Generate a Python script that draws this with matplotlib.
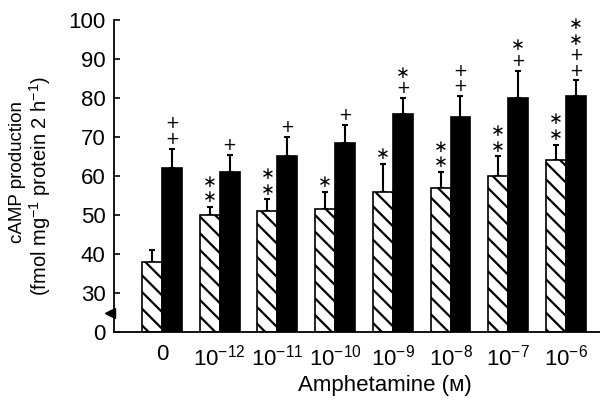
import matplotlib
matplotlib.use("Agg")
import matplotlib.pyplot as plt
import numpy as np

plt.rcParams['font.family'] = ['Liberation Sans', 'DejaVu Sans']
plt.rcParams['mathtext.fontset'] = 'custom'
plt.rcParams['mathtext.rm'] = 'Liberation Sans'
plt.rcParams['mathtext.default'] = 'regular'
plt.rcParams['hatch.linewidth'] = 1.6

# ---- data ----
tick_labels = ['0', r'10$^{-12}$', r'10$^{-11}$', r'10$^{-10}$', r'10$^{-9}$',
               r'10$^{-8}$', r'10$^{-7}$', r'10$^{-6}$']
hatched_vals = [38, 50, 51, 51.5, 56, 57, 60, 64]
hatched_err = [3, 2, 3, 4.5, 7, 4, 5, 4]
black_vals = [62, 61, 65, 68.5, 76, 75, 80, 80.5]
black_err = [5, 4.5, 5, 4.5, 4, 5.5, 7, 4]
hatched_marks = ['', '**', '**', '*', '*', '**', '**', '**']
black_marks = ['++', '+', '+', '+', '*+', '++', '*+', '**++']  # top to bottom

BASE = 20  # value drawn at the position labelled "0" (broken axis)

fig = plt.figure(figsize=(6, 4), dpi=100)
ax = fig.add_axes([0.19, 0.17, 0.81, 0.78])

x = np.arange(len(tick_labels))
w = 0.345

hb = [v - BASE for v in hatched_vals]
bb = [v - BASE for v in black_vals]
ax.bar(x - w / 2, hb, w, bottom=BASE, facecolor='white', edgecolor='black',
       hatch='\\\\', linewidth=1.2, zorder=2)
ax.bar(x + w / 2, bb, w, bottom=BASE, facecolor='black', edgecolor='black',
       linewidth=1.2, zorder=2)
ax.errorbar(x - w / 2, hatched_vals, yerr=[np.zeros(len(x)), hatched_err],
            fmt='none', ecolor='black', elinewidth=1.5, capsize=2.5, capthick=1.5, zorder=1)
ax.errorbar(x + w / 2, black_vals, yerr=[np.zeros(len(x)), black_err],
            fmt='none', ecolor='black', elinewidth=1.5, capsize=2.5, capthick=1.5, zorder=1)


def put_marks(xpos, top, marks):
    txt = '\n'.join('∗' if ch == '*' else '+' for ch in marks)
    ax.annotate(txt, xy=(xpos, top), xytext=(0, 3.5), textcoords='offset points',
                ha='center', va='baseline', fontsize=12, linespacing=0.82,
                family=['DejaVu Sans'], annotation_clip=False)


for i in range(len(x)):
    if hatched_marks[i]:
        put_marks(x[i] - w / 2, hatched_vals[i] + hatched_err[i], hatched_marks[i])
    if black_marks[i]:
        put_marks(x[i] + w / 2, black_vals[i] + black_err[i], black_marks[i])

ax.set_xlim(-0.83, 7.59)
ax.set_ylim(BASE, 100)
ax.set_yticks([20, 30, 40, 50, 60, 70, 80, 90, 100])
ax.set_yticklabels(['0', '30', '40', '50', '60', '70', '80', '90', '100'])
ax.set_xticks(x)
ax.set_xticklabels(tick_labels)
ax.tick_params(axis='y', direction='in', length=4, width=1.2, labelsize=16, pad=6)
ax.tick_params(axis='x', length=0, labelsize=16, pad=9)
for s in ['top', 'right']:
    ax.spines[s].set_visible(False)
ax.spines['left'].set_linewidth(1.3)
ax.spines['bottom'].set_linewidth(1.3)

# axis break marker
ax.plot([-0.008], [25], marker='<', color='black', markersize=7,
        transform=ax.get_yaxis_transform(), clip_on=False, zorder=5)

fig.text(17.5 / 600, 1 - 172 / 400, 'cAMP production', rotation=90,
         ha='center', va='center', fontsize=13.5)
fig.text(40 / 600, 1 - 186 / 400, '(fmol mg$^{-1}$ protein 2 h$^{-1}$)', rotation=90,
         ha='center', va='center', fontsize=14.5)
fig.text(385 / 600, 1 - 386 / 400, 'Amphetamine (ᴍ)', ha='center', va='center', fontsize=16)

fig.savefig('out.png', dpi=100)
